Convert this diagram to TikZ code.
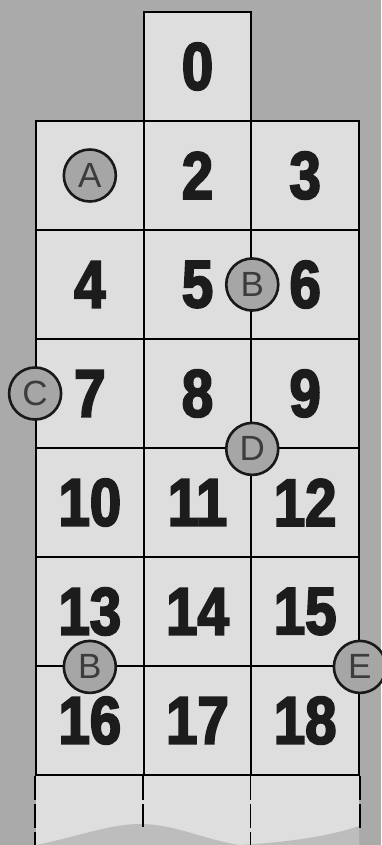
\documentclass[tikz,border=0pt]{standalone}
\usepackage{fontspec}
\newfontfamily\numfont{Liberation Sans}[UprightFont=* Bold, FakeStretch=0.84, FakeBold=3]
\newfontfamily\letfont{Liberation Sans}
\definecolor{bggray}{HTML}{AAAAAA}
\definecolor{cellfill}{HTML}{DEDEDE}
\definecolor{wavegray}{HTML}{BDBDBD}
\definecolor{numcol}{HTML}{1C1C1C}
\definecolor{markfill}{HTML}{A6A6A6}
\definecolor{letcol}{HTML}{3C3C3C}
\tikzset{
  cellbox/.style={draw=black, line width=1.8pt, fill=cellfill, minimum width=107.67pt,
    minimum height=109pt, inner sep=0pt, text=numcol,
    font=\numfont\fontsize{67}{67}\selectfont},
  marker/.style={circle, draw=black!90, line width=2.6pt, fill=markfill, minimum size=52pt,
    inner sep=0pt, text=letcol, font=\letfont\fontsize{35}{35}\selectfont},
  dashpart/.style={draw=black, line width=1.8pt, dash pattern=on 24pt off 4pt}
}
\begin{document}
\begin{tikzpicture}[x=1pt,y=-1pt]
\useasboundingbox (0,0) rectangle (381,845);
\fill[bggray] (0,0) rectangle (381,845);
% lower continuation of the strip
\fill[cellfill] (36,775) rectangle (359,845);
\fill[wavegray] (36,845) .. controls (80,836) and (110,824) .. (140,824)
  .. controls (175,824) and (205,840) .. (240,845)
  .. controls (290,842) and (330,836) .. (359,826) -- (359,845) -- cycle;
% cells
\foreach \n/\c/\r in {0/1/0, 1/0/1, 2/1/1, 3/2/1, 4/0/2, 5/1/2, 6/2/2, 7/0/3, 8/1/3, 9/2/3,
  10/0/4, 11/1/4, 12/2/4, 13/0/5, 14/1/5, 15/2/5, 16/0/6, 17/1/6, 18/2/6}{
  \ifnum\n=1
    \node[cellbox] (cell\n) at ({36+107.67*(\c+0.5)},{66.5+109*\r}) {};
  \else
    \node[cellbox] (cell\n) at ({36+107.67*(\c+0.5)},{66.5+109*\r}) {\n};
  \fi
}
% dashed continuations
\draw[dashpart] (cell16.south west) -- ++(0,70);
\draw[dashpart] (cell17.south west) -- ++(0,51);
\draw[dashpart] (cell18.south west) -- ++(0,70);
\draw[dashpart] (cell18.south east) -- ++(0,55);
% markers
\node[marker] (mA) at (cell1.center) {A};
\node[marker] (mB1) at (cell5.east) {B};
\node[marker] (mC) at (cell7.west) {C};
\node[marker] (mD) at (cell8.south east) {D};
\node[marker] (mB2) at (cell13.south) {B};
\node[marker] (mE) at (cell15.south east) {E};
\end{tikzpicture}
\end{document}
